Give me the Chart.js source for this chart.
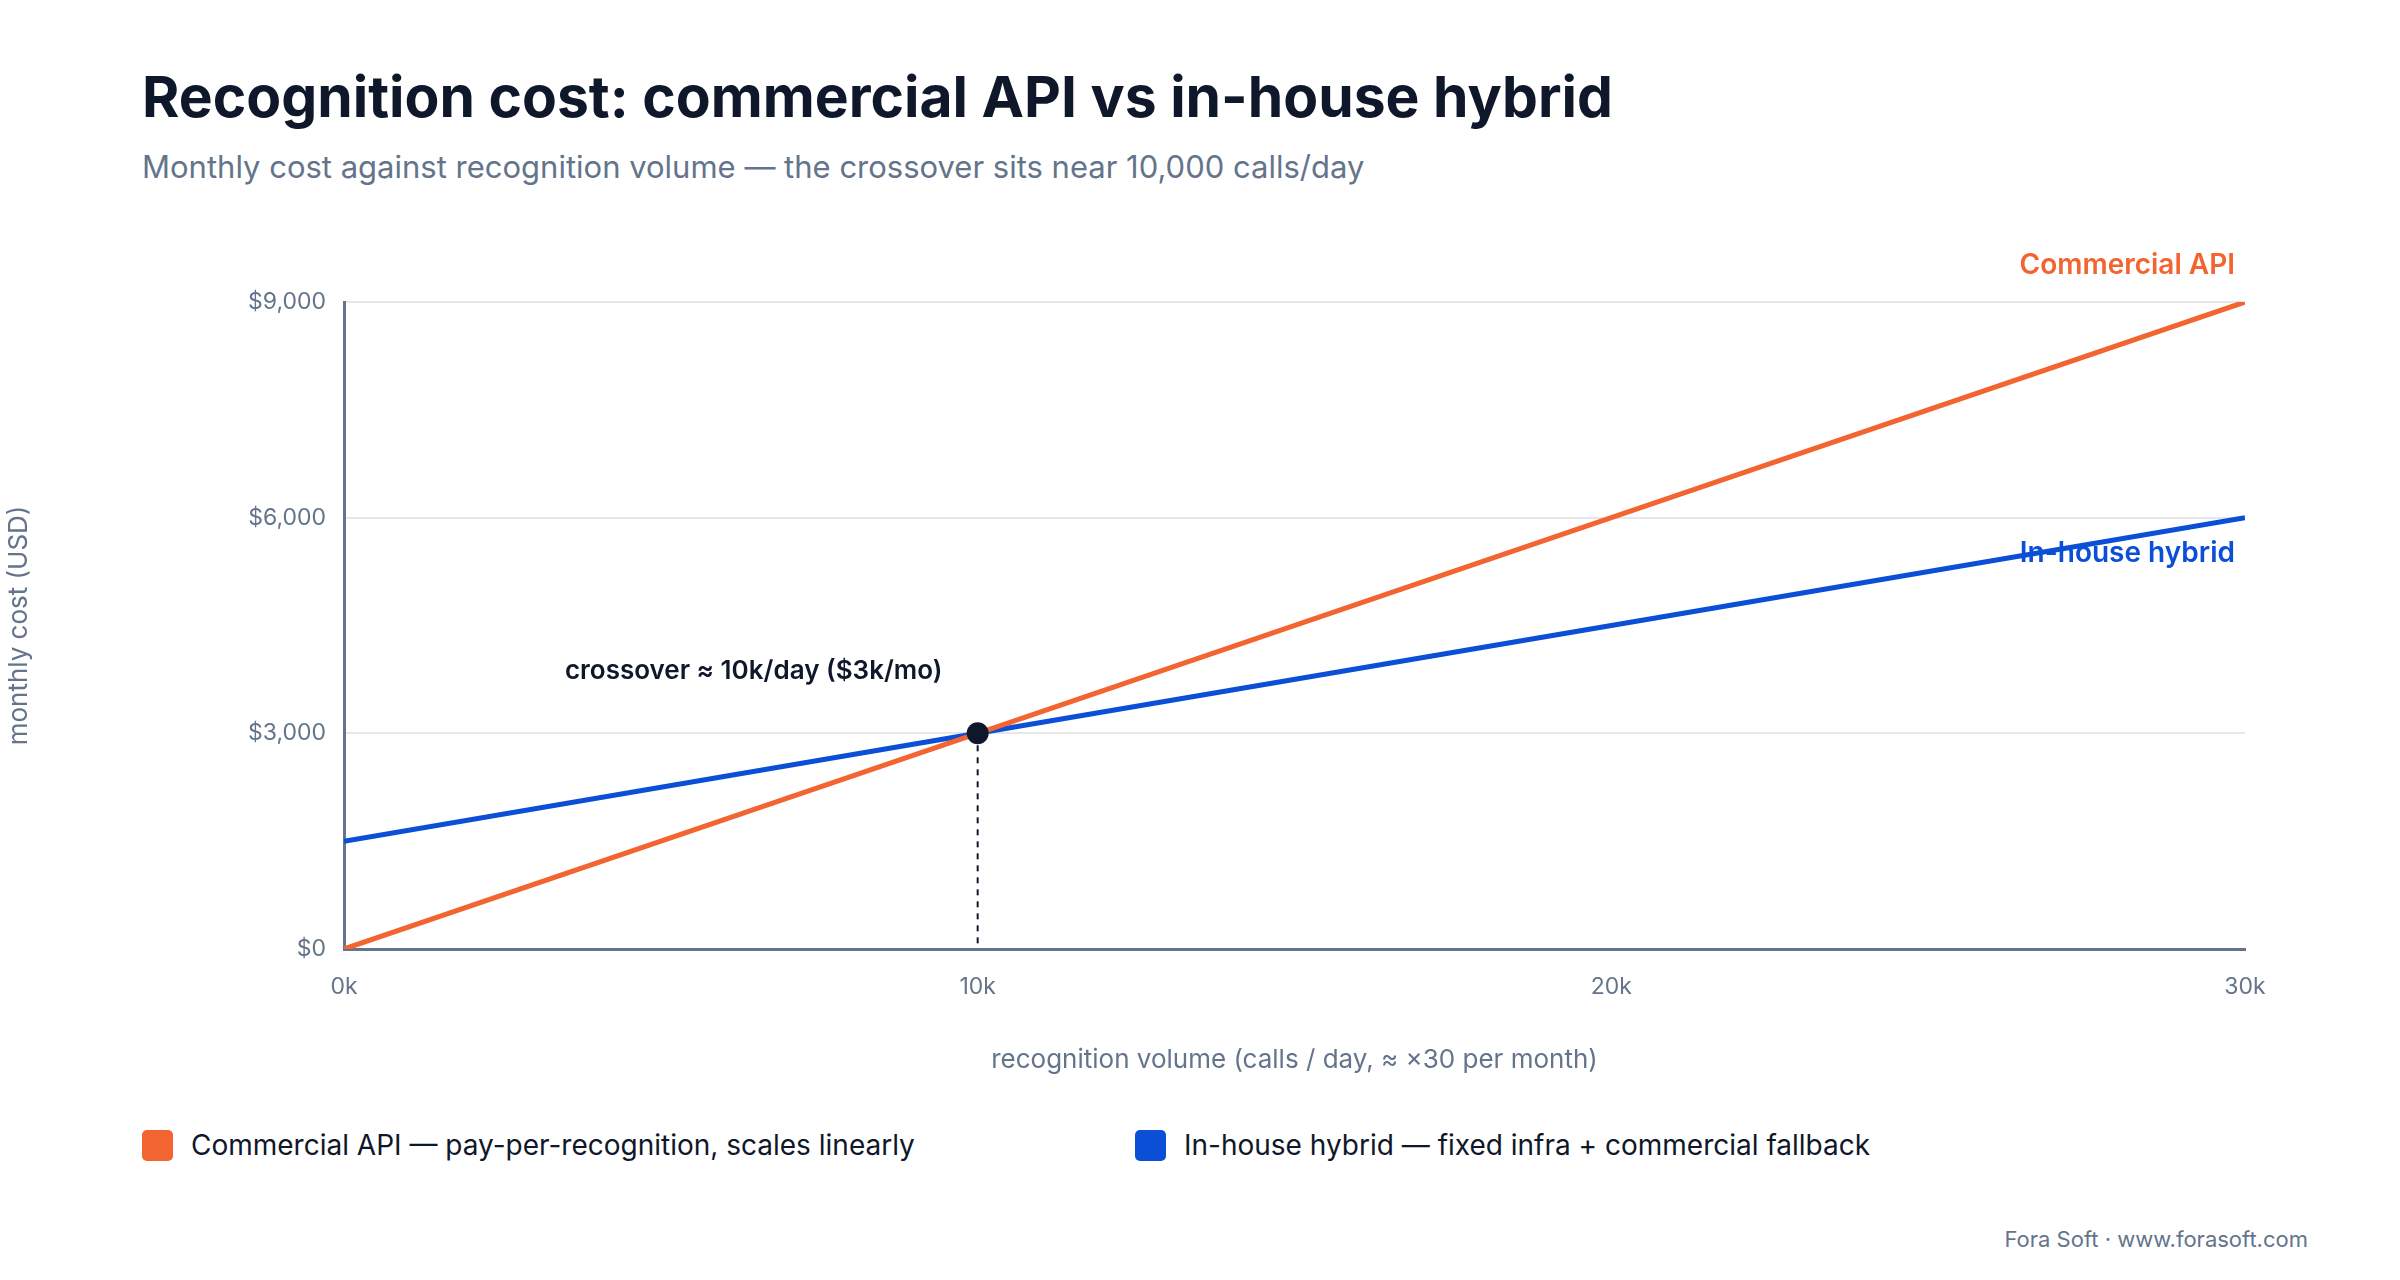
<!DOCTYPE html>
<html>
<head>
<meta charset="utf-8">
<script src="https://cdn.jsdelivr.net/npm/chart.js@4"></script>
<style>
  body { margin: 0; width: 2400px; height: 1280px; background: #fff; font-family: Inter, "Noto Sans", sans-serif; position: relative; overflow: hidden; }
  .title { position: absolute; left: 142px; top: 62px; font-size: 57px; font-weight: 700; color: #0f172a; }
  .subtitle { position: absolute; left: 142px; top: 148px; font-size: 31px; color: #64748b; }
  .chart { position: absolute; left: 0; top: 240px; width: 2400px; height: 840px; }
  .legend { position: absolute; top: 1128px; font-size: 28px; color: #0f172a; display: flex; align-items: center; }
  .legend span.sw { width: 31px; height: 31px; border-radius: 5px; margin-right: 18px; display: inline-block; }
  .footer { position: absolute; right: 92px; top: 1226px; font-size: 22px; color: #64748b; }
</style>
</head>
<body>
<div class="title">Recognition cost: commercial API vs in-house hybrid</div>
<div class="subtitle">Monthly cost against recognition volume — the crossover sits near 10,000 calls/day</div>
<div class="chart"><canvas id="c" width="2400" height="840"></canvas></div>
<div class="legend" style="left:142px"><span class="sw" style="background:#f26430"></span>Commercial API — pay-per-recognition, scales linearly</div>
<div class="legend" style="left:1135px"><span class="sw" style="background:#0a4fd6"></span>In-house hybrid — fixed infra + commercial fallback</div>
<div class="footer">Fora Soft · www.forasoft.com</div>
<script>
// calls per day (thousands) and monthly cost in USD
const volume = [0, 10, 20, 30];
const commercialCost = [0, 3000, 6000, 9000];
const inhouseCost = [1500, 3000, 4500, 6000];
const yTicks = [0, 3000, 6000, 9000];
const crossover = { x: 10, y: 3000 };

const ORANGE = "#f26430";
const BLUE = "#0a4fd6";
const AXIS = "#64748b";

const toPoints = vals => volume.map((v, i) => ({ x: v, y: vals[i] }));

const annotations = {
  id: "annotations",
  afterDatasetsDraw(chart) {
    const { ctx, scales: { x, y } } = chart;
    const px = x.getPixelForValue(crossover.x);
    const py = y.getPixelForValue(crossover.y);
    ctx.save();
    ctx.setLineDash([6, 6]);
    ctx.strokeStyle = "#0f172a";
    ctx.lineWidth = 2;
    ctx.beginPath();
    ctx.moveTo(px, py);
    ctx.lineTo(px, y.getPixelForValue(0));
    ctx.stroke();
    ctx.setLineDash([]);
    ctx.fillStyle = "#0f172a";
    ctx.beginPath();
    ctx.arc(px, py, 11, 0, Math.PI * 2);
    ctx.fill();
    ctx.font = "600 26px Inter";
    ctx.textAlign = "center";
    ctx.textBaseline = "middle";
    ctx.fillText("crossover ≈ 10k/day ($3k/mo)", px - 224, py - 62);
    ctx.textAlign = "right";
    ctx.font = "600 28px Inter";
    const ex = x.getPixelForValue(30) - 10;
    ctx.fillStyle = ORANGE;
    ctx.fillText("Commercial API", ex, y.getPixelForValue(9000) - 36);
    ctx.fillStyle = BLUE;
    ctx.fillText("In-house hybrid", ex, y.getPixelForValue(6000) + 36);
    ctx.restore();
  }
};

new Chart(document.getElementById("c"), {
  type: "line",
  data: {
    datasets: [
      { label: "Commercial API", data: toPoints(commercialCost), borderColor: ORANGE, borderWidth: 5, pointRadius: 0, tension: 0 },
      { label: "In-house hybrid", data: toPoints(inhouseCost), borderColor: BLUE, borderWidth: 5, pointRadius: 0, tension: 0 }
    ]
  },
  options: {
    responsive: false,
    animation: false,
    layout: { padding: { top: 62, right: 155, left: 0, bottom: 0 } },
    plugins: { legend: { display: false }, tooltip: { enabled: false } },
    scales: {
      x: {
        type: "linear", min: 0, max: 30,
        afterBuildTicks: s => { s.ticks = volume.map(v => ({ value: v })); },
        afterFit: s => { s.height = 131; },
        ticks: { color: AXIS, font: { size: 23, family: "Inter" }, padding: 14, callback: v => v + "k" },
        grid: { display: false, drawTicks: true, tickLength: 10, tickColor: AXIS },
        border: { color: AXIS, width: 3 },
        title: { display: true, text: "recognition volume (calls / day, ≈ ×30 per month)", color: AXIS, font: { size: 26, family: "Inter" }, padding: { top: 14 } }
      },
      y: {
        min: 0, max: 9000,
        afterBuildTicks: s => { s.ticks = yTicks.map(v => ({ value: v })); },
        afterFit: s => { s.width = 344; },
        ticks: { color: AXIS, font: { size: 23, family: "Inter" }, padding: 18, callback: v => "$" + v.toLocaleString("en-US") },
        grid: { color: "#e5e7eb", lineWidth: 2, drawTicks: false },
        border: { color: AXIS, width: 3 },
        title: { display: true, text: "monthly cost (USD)", color: AXIS, font: { size: 26, family: "Inter" }, padding: { bottom: 0 } }
      }
    }
  },
  plugins: [annotations]
});
</script>
</body>
</html>
